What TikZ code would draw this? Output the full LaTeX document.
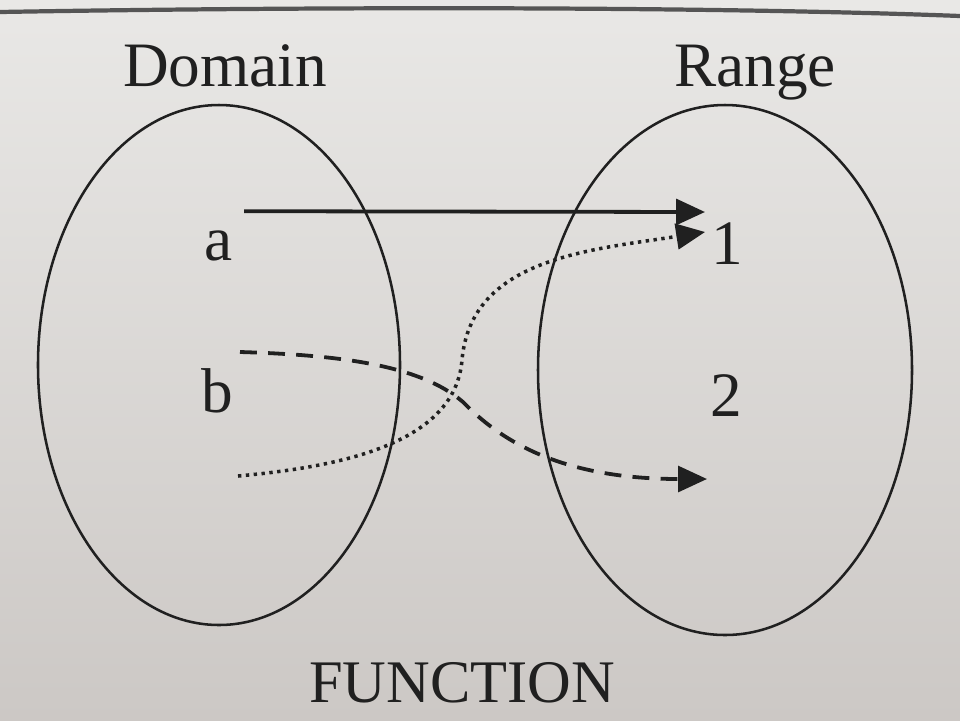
\documentclass[tikz,border=0pt]{standalone}
\usepackage{fontspec}
\setmainfont{Liberation Serif}
\usetikzlibrary{shapes.geometric,arrows.meta}
\definecolor{ink}{RGB}{32,32,32}
\definecolor{pagetop}{RGB}{233,232,230}
\definecolor{pagebot}{RGB}{204,200,197}
\definecolor{rule}{RGB}{85,85,85}
\begin{document}
\begin{tikzpicture}

\tikzstyle{set}=[ellipse, draw=ink, line width=1.8pt, inner sep=0pt]
\tikzstyle{word}=[anchor=base, text=ink, font=\fontsize{45}{50}\selectfont]
\tikzstyle{arrow}=[-{Triangle[length=0.72cm,width=0.64cm]}, line width=2.7pt, draw=ink]
\tikzstyle{dasharrow}=[arrow, dash pattern=on 12pt off 8pt]
\tikzstyle{dotarrow}=[arrow, line width=2.5pt, dash pattern=on 2.4pt off 3.2pt]

\useasboundingbox (0,0) rectangle (24,-18);
\shade[top color=pagetop, bottom color=pagebot] (0,0) rectangle (24,-18);
\draw[line width=3pt, rule] (0,-0.3) .. controls (7.5,-0.17) and (17.5,-0.15) .. (24,-0.4);

\node (D) [word]  at (5.625,-2.15)   {Domain};
\node (R) [word]  at (18.875,-2.15)  {Range};
\node (F) [word, font=\fontsize{43}{48}\selectfont]  at (11.55,-17.55)  {FUNCTION};

\node (A) [set, minimum width=9.05cm, minimum height=13cm]    at (5.475,-9.125)  {};
\node (B) [set, minimum width=9.35cm, minimum height=13.25cm] at (18.125,-9.25)  {};

\node (a) [word]  at (5.475,-6.5)    {a};
\node (b) [word]  at (5.425,-10.3)   {b};
\node (one) [word]  at (18.175,-6.6)  {1};
\node (two) [word]  at (18.15,-10.4)  {2};

\coordinate (a0) at (6.1,-5.28);
\coordinate (a1) at (17.625,-5.3);
\coordinate (b0) at (6.0,-8.8);
\coordinate (bx) at (11.575,-10.05);
\coordinate (b1) at (17.675,-11.975);
\coordinate (c0) at (5.95,-11.9);
\coordinate (cx) at (11.55,-9.0);
\coordinate (c1) at (17.625,-5.8);

\draw [arrow] (a0) -- (a1);
\draw [dasharrow] (b0) .. controls (8.5,-8.875) and (10.5,-9.125) .. (bx) .. controls (12.5,-11.0) and (14.0,-11.975) .. (b1);
\draw [dotarrow] (c0) .. controls (8.425,-11.675) and (11.375,-11.125) .. (cx) .. controls (11.775,-6.45) and (14.75,-6.25) .. (c1);

\end{tikzpicture}
\end{document}
